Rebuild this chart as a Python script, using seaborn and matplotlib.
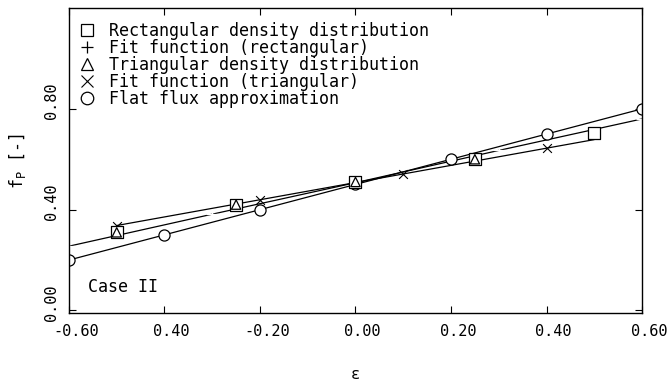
import matplotlib
matplotlib.use("Agg")
import matplotlib.pyplot as plt
import matplotlib.transforms as mtransforms
import seaborn as sns
import numpy as np
import pandas as pd
from matplotlib.lines import Line2D

# ---- data ----
rect_x = [-0.5, -0.25, 0.0, 0.25, 0.5]
rect_y = [0.31, 0.42, 0.51, 0.60, 0.705]

tri_x = [-0.5, -0.25, 0.0, 0.25]
tri_y = [0.31, 0.42, 0.51, 0.60]

fit_rect_x = [-0.6, -0.3, 0.0, 0.3, 0.6]
fit_rect_y = [0.255, 0.382, 0.507, 0.635, 0.76]

fit_tri_x = [-0.5, -0.2, 0.1, 0.4]
fit_tri_y = [0.337, 0.439, 0.541, 0.643]
fit_tri_line_x = [-0.5, 0.5]
fit_tri_line_y = [0.337, 0.678]

flat_x = [-0.6, -0.4, -0.2, 0.0, 0.2, 0.4, 0.6]
flat_y = [0.20, 0.30, 0.40, 0.50, 0.60, 0.70, 0.80]

xticks = [-0.6, -0.4, -0.2, 0.0, 0.2, 0.4, 0.6]
xticklabels = ["-0.60", "0.40", "-0.20", "0.00", "0.20", "0.40", "0.60"]
yticks = [0.0, 0.4, 0.8]
yticklabels = ["0.00", "0.40", "0.80"]
legend_labels = ["Rectangular density distribution",
                 "Fit function (rectangular)",
                 "Triangular density distribution",
                 "Fit function (triangular)",
                 "Flat flux approximation"]

sns.set_style("ticks")
plt.rcParams['font.family'] = ['DejaVu Sans Mono', 'DejaVu Sans']
plt.rcParams['mathtext.fontset'] = 'dejavusans'
for k in ["text.color", "axes.labelcolor", "xtick.color", "ytick.color", "axes.edgecolor"]:
    plt.rcParams[k] = "black"

fig = plt.figure(figsize=(6.71, 3.84), dpi=100)
ax = fig.add_axes([0.1028, 0.185, 0.854, 0.794])

lw = 0.9
# lines
sns.lineplot(x=fit_rect_x, y=fit_rect_y, ax=ax, color="black", lw=lw, marker="+",
             markersize=8, markeredgewidth=0.9, sort=False)
sns.lineplot(x=fit_tri_line_x, y=fit_tri_line_y, ax=ax, color="black", lw=lw, sort=False)
sns.scatterplot(x=fit_tri_x, y=fit_tri_y, ax=ax, color="black", marker="x", s=40,
                linewidth=0.8, zorder=4)
sns.lineplot(x=flat_x, y=flat_y, ax=ax, color="black", lw=lw, marker="o",
             markersize=8, markerfacecolor="white", markeredgecolor="black",
             markeredgewidth=0.9, sort=False)
# markers only
sns.scatterplot(x=rect_x, y=rect_y, ax=ax, marker="s", s=65, facecolor="white",
                edgecolor="black", linewidth=0.9, zorder=5)
sns.scatterplot(x=tri_x, y=tri_y, ax=ax, marker="^", s=45, facecolor="none",
                edgecolor="black", linewidth=0.9, zorder=6)

ax.set_xlim(-0.6, 0.6)
ax.set_ylim(-0.01, 1.2)
ax.set_xticks(xticks)
ax.set_xticklabels(xticklabels, fontsize=11)
ax.set_yticks(yticks)
ax.set_yticklabels(yticklabels, fontsize=11, rotation=90, va="center")
ax.tick_params(direction="in", top=True, right=True, length=5, width=0.8)
ax.tick_params(axis="x", pad=8)
ax.tick_params(axis="y", pad=7)
# labels in the reference start near the tick: shift them a little
dx = mtransforms.ScaledTranslation(7 / 100, 0, fig.dpi_scale_trans)
for lab in ax.get_xticklabels():
    lab.set_transform(lab.get_transform() + dx)
dy = mtransforms.ScaledTranslation(0, 8 / 100, fig.dpi_scale_trans)
for lab in ax.get_yticklabels():
    lab.set_transform(lab.get_transform() + dy)
for s in ax.spines.values():
    s.set_linewidth(1.0)

ax.set_xlabel("ε", fontsize=11, labelpad=20)
ax.set_ylabel(r"f$_{\rm P}$ [-]", fontsize=12, labelpad=12)

ax.text(-0.56, 0.094, "Case II", fontsize=12, ha="left", va="center")

handles = [
    Line2D([], [], ls="none", marker="s", markersize=8, mfc="white", mec="black", mew=0.9),
    Line2D([], [], ls="none", marker="+", markersize=9, mec="black", mew=0.9),
    Line2D([], [], ls="none", marker="^", markersize=9, mfc="white", mec="black", mew=0.9),
    Line2D([], [], ls="none", marker="x", markersize=8, mec="black", mew=0.8),
    Line2D([], [], ls="none", marker="o", markersize=9, mfc="white", mec="black", mew=0.9),
]
ax.legend(handles, legend_labels, loc="upper left", frameon=False, fontsize=12,
          handlelength=0.8, handletextpad=0.9, labelspacing=-0.06,
          borderaxespad=0.3, bbox_to_anchor=(0.0, 0.993))

fig.savefig("out.png", dpi=100)
